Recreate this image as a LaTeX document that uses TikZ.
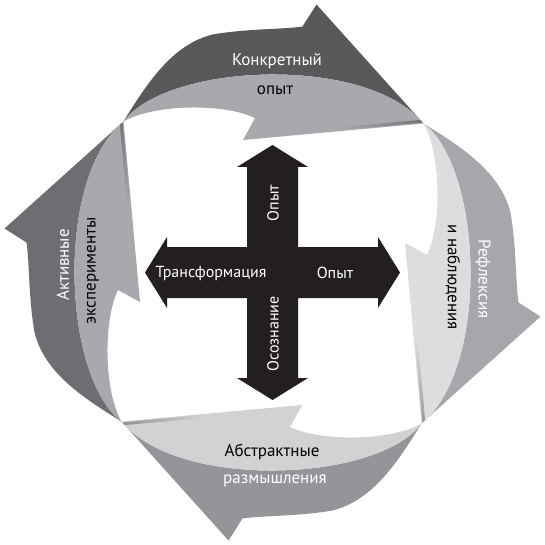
\documentclass[tikz,border=0pt]{standalone}
\usepackage{fontspec}
\setmainfont{PT Sans}
\usetikzlibrary{calc}
\definecolor{topout}{HTML}{58595B}
\definecolor{topin}{HTML}{A7A9AC}
\definecolor{rightout}{HTML}{A5A7AA}
\definecolor{rightin}{HTML}{DCDDDE}
\definecolor{botout}{HTML}{939598}
\definecolor{botin}{HTML}{D1D2D4}
\definecolor{leftout}{HTML}{6D6E71}
\definecolor{leftin}{HTML}{A7A9AC}
\definecolor{crossblack}{HTML}{231F20}
\newcommand\innerband{(-149,-151) .. controls (-105,-210) and (95,-218) .. (151,-149)
     -- (-29.5,-132.5) -- (-17.5,-154.5)
     .. controls (-50,-170) and (-120,-168) .. (-149,-151) -- cycle}
\newcommand\cyclearrow[2]{%
  \fill[#1] (-149,-151) .. controls (-125,-190) and (-100,-228) .. (-60,-238)
     .. controls (-25,-244) and (10,-243) .. (30,-246) -- (44,-268) -- (151,-149)
     .. controls (95,-218) and (-105,-210) .. (-149,-151) -- cycle;
  \fill[#2] \innerband;
  \begin{scope}
    \clip \innerband;
    \foreach \i in {0,...,29}{
      \pgfmathsetmacro\ta{\i/30*0.45}
      \pgfmathsetmacro\tb{(\i+1.5)/30*0.45}
      \pgfmathsetmacro\pct{int(30*(1-\i/30))}
      \draw[foldline, draw=black!\pct!#2]
        ($(151,-149)!\ta!(-29.5,-132.5)+(-0.3,-2.4)$) --
        ($(151,-149)!\tb!(-29.5,-132.5)+(-0.3,-2.4)$);
    }
  \end{scope}
}
\tikzset{
  foldline/.style={line width=2.8pt, line cap=butt},
  lbl/.style={font=\fontsize{17}{20}\selectfont, inner sep=0pt},
  clbl/.style={font=\fontsize{16}{19}\selectfont, inner sep=0pt, text=white},
  wt/.style={lbl, text=white},
  bk/.style={lbl, text=black}
}
\begin{document}
\begin{tikzpicture}[x=1pt,y=-1pt]
\path[use as bounding box] (0,0) rectangle (545,545);
\begin{scope}[shift={(272.5,272.5)}]
  \cyclearrow{topout}{topin}
\end{scope}
\begin{scope}[shift={(272.5,272.5)}, rotate=-90]
  \cyclearrow{rightout}{rightin}
\end{scope}
\begin{scope}[shift={(272.5,272.5)}, rotate=-180]
  \cyclearrow{botout}{botin}
\end{scope}
\begin{scope}[shift={(272.5,272.5)}, rotate=-270]
  \cyclearrow{leftout}{leftin}
\end{scope}
% cross
\begin{scope}[shift={(272.5,272.5)}]
  \fill[crossblack] (0,-127.5) -- (35.5,-105.5) -- (25.5,-105.5) -- (25.5,-25.5)
    -- (105.5,-25.5) -- (105.5,-35.5) -- (127.5,0) -- (105.5,35.5) -- (105.5,25.5)
    -- (25.5,25.5) -- (25.5,105.5) -- (35.5,105.5) -- (0,127.5) -- (-35.5,105.5)
    -- (-25.5,105.5) -- (-25.5,25.5) -- (-105.5,25.5) -- (-105.5,35.5) -- (-127.5,0)
    -- (-105.5,-35.5) -- (-105.5,-25.5) -- (-25.5,-25.5) -- (-25.5,-105.5)
    -- (-35.5,-105.5) -- cycle;
\end{scope}
% labels
\node[wt] (konk) at (277,61) {Конкретный};
\node[bk] (opyt1) at (275,90) {опыт};
\node[wt, rotate=-90] (refl) at (483,279) {Рефлексия};
\node[bk, rotate=-90] (nabl) at (453,277) {и наблюдения};
\node[bk] (abstr) at (272,452) {Абстрактные};
\node[wt] (razm) at (275,481) {размышления};
\node[wt, rotate=90] (aktiv) at (63,265) {Активные};
\node[bk, rotate=90] (eksp) at (93,271) {эксперименты};
\node[clbl] (trans) at (211,273) {Трансформация};
\node[clbl] (opyt2) at (335,273) {Опыт};
\node[clbl, rotate=90] (opyt3) at (273,203) {Опыт};
\node[clbl, rotate=90] (osozn) at (273,334) {Осознание};
\end{tikzpicture}
\end{document}
